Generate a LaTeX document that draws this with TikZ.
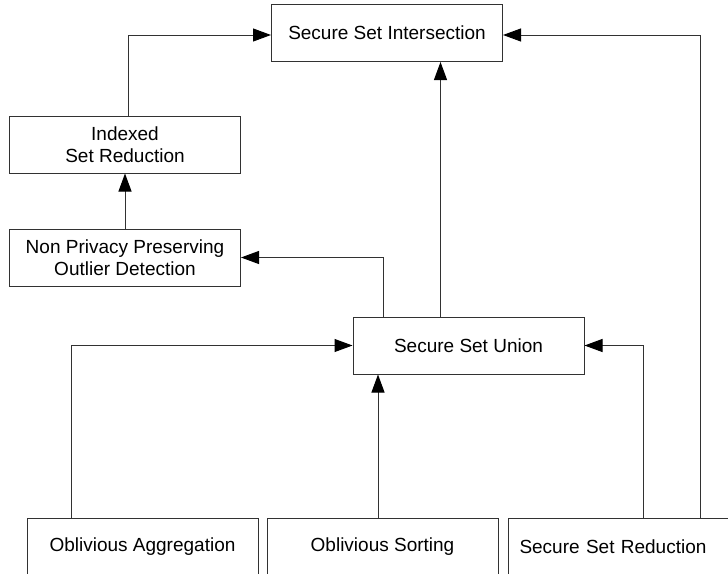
\documentclass[tikz,border=0pt]{standalone}
\usepackage{fontspec}
\setmainfont{Liberation Sans}
\usetikzlibrary{arrows.meta,calc}
\definecolor{lc}{RGB}{50,50,50}
\begin{document}
\begin{tikzpicture}[x=1pt,y=-1pt,
  box/.style={draw=lc, line width=1pt, rectangle, minimum width=231pt, minimum height=57pt,
    inner sep=0pt, align=center, font=\fontsize{19}{22}\selectfont},
  conn/.style={draw=lc, line width=1pt, -{Triangle[length=18pt,width=13pt,color=black,fill=black]}}]
\useasboundingbox (0,0) rectangle (728,573);
\node[box] (ssi) at (387,33) {Secure Set Intersection};
\node[box] (isr) at (125,144.5) {Indexed\\Set Reduction};
\node[box] (npp) at (125,257.5) {Non Privacy Preserving\\Outlier Detection};
\node[box] (ssu) at (468.5,345.5) {Secure Set Union};
\node[box] (oa) at (142.5,546.5) {Oblivious Aggregation};
\node[box] (os) at (382.5,546.5) {Oblivious Sorting};
\node[box, anchor=north west, text width=210pt, align=left, inner xsep=11pt] (ssr) at (508,518) {Secure Set Reduction};
\draw[conn] ([xshift=3pt]isr.north) |- ([yshift=-2pt]ssi.west);
\draw[conn] (npp.north) -- (isr.south);
\draw[conn] ([xshift=-85.5pt]ssu.north) |- (npp.east);
\draw[conn] ([xshift=-28pt]ssu.north) -- ([xshift=-28pt]ssu.north |- ssi.south);
\draw[conn] ([xshift=-71.5pt]oa.north) |- (ssu.west);
\draw[conn] ([xshift=-4.5pt]os.north) -- ([xshift=-4.5pt]os.north |- ssu.south);
\draw[conn] ([xshift=135pt]ssr.north west) |- (ssu.east);
\draw[conn] ([xshift=192pt]ssr.north west) |- ([yshift=-2pt]ssi.east);
\end{tikzpicture}
\end{document}
